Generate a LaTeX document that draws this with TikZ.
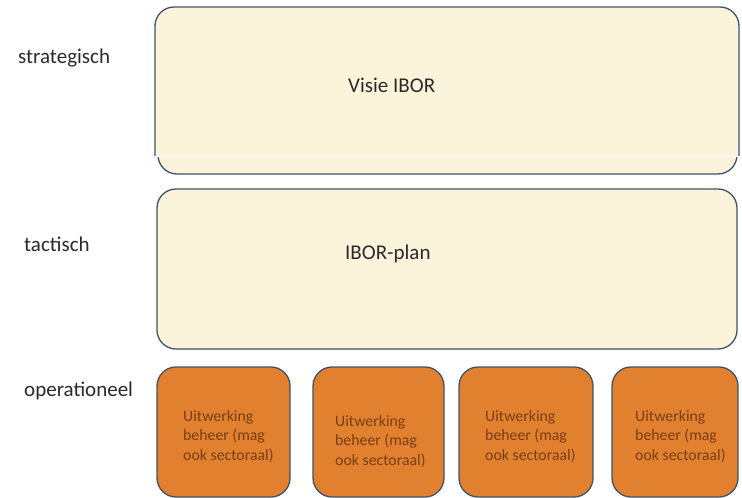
\documentclass[tikz,border=0pt]{standalone}
\usepackage{fontspec}
\setmainfont{Carlito}
\definecolor{paleY}{HTML}{FBF3DA}
\definecolor{oranj}{HTML}{E1812F}
\definecolor{edge}{HTML}{3F5468}
\definecolor{otext}{HTML}{7A3E16}
\definecolor{lbl}{HTML}{2A2A2A}
\begin{document}
\begin{tikzpicture}[x=1pt,y=-1pt,
  bigbox/.style={draw=edge,line width=1.3pt,fill=paleY,rounded corners=19pt},
  opbox/.style={draw=edge,line width=1.3pt,fill=oranj,rounded corners=19pt},
  lvl/.style={font=\fontsize{21}{24}\selectfont,text=lbl,inner sep=0pt,anchor=west},
  optext/.style={font=\fontsize{15.8}{19.2}\selectfont,text=otext,align=left,anchor=north west,inner sep=0pt}]
\useasboundingbox (0,0) rectangle (742,498);
\fill[white] (0,0) rectangle (742,498);
% strategic box (scanned with a seam)
\begin{scope}
\clip (0,0) rectangle (742,155.5);
\draw[bigbox] (155,7) rectangle (739,190);
\end{scope}
\begin{scope}
\clip (0,157.5) rectangle (742,200);
\draw[bigbox] (158,-20) rectangle (737,174);
\end{scope}
% tactical box
\draw[bigbox] (157,189) rectangle (737,349);
\node[lvl] (vis) at (348,85) {Visie IBOR};
\node[lvl] (plan) at (345,254) {IBOR-plan};
% level labels
\node[lvl] (s) at (18,58) {strategisch};
\node[lvl] (t) at (24,244) {tactisch};
\node[lvl] (o) at (24,391) {operationeel};
% operational boxes
\draw[opbox] (157,367) rectangle (290,497);
\draw[opbox] (313,367) rectangle (444,497);
\draw[opbox] (459,367) rectangle (593,497);
\draw[opbox] (612,367) rectangle (738,497);
\node[optext] (u1) at (183,410.5) {Uitwerking\\beheer (mag\\ook sectoraal)};
\node[optext] (u2) at (335,415.5) {Uitwerking\\beheer (mag\\ook sectoraal)};
\node[optext] (u3) at (485,410.5) {Uitwerking\\beheer (mag\\ook sectoraal)};
\node[optext] (u4) at (635,410.5) {Uitwerking\\beheer (mag\\ook sectoraal)};
\end{tikzpicture}
\end{document}
